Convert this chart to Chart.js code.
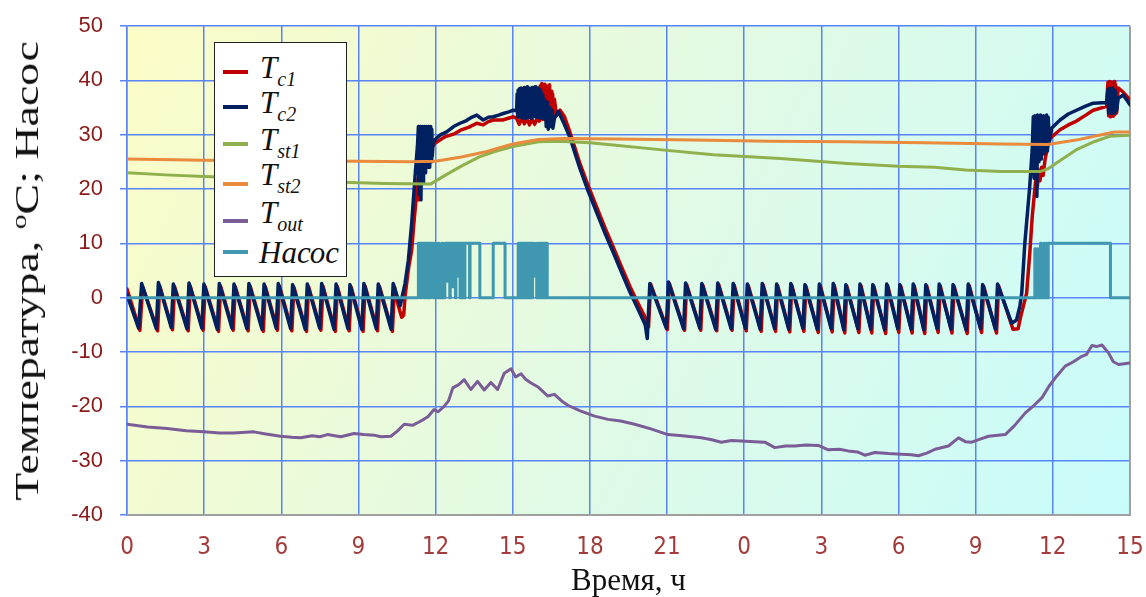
<!DOCTYPE html>
<html>
<head>
<meta charset="utf-8">
<script src="https://cdn.jsdelivr.net/npm/chart.js@4.4.1/dist/chart.umd.min.js"></script>
<style>
  body { margin: 0; background: #fff; }
  #wrap { position: relative; width: 1146px; height: 597px; }
  #ytitle {
    position: absolute; left: 27px; top: 271px;
    transform: translate(-50%, -50%) rotate(-90deg) scaleX(1.35);
    font: 34px "Liberation Serif", "Times New Roman", serif; color: #111; white-space: nowrap;
  }
  #ytitle sup { font-size: 22px; vertical-align: 12px; line-height: 1; }
  #legend {
    position: absolute; left: 214px; top: 42px; width: 131px; height: 233px;
    background: #fff; border: 1.5px solid #222;
  }
  .row { position: absolute; left: 45px; font: italic 31px "Liberation Serif", "Times New Roman", serif; line-height: 31px; color: #111; white-space: nowrap; }
  .row sub { font-size: 20px; vertical-align: -8px; line-height: 1; }
  .swatch { position: absolute; left: 8px; width: 25px; height: 4px; }
</style>
</head>
<body>
<div id="wrap">
  <canvas id="chart" width="1146" height="597"></canvas>
  <div id="ytitle">Температура, <sup>o</sup>C; Насос</div>
  <div id="legend"></div>
</div>
<script>
// hours from start, value
const tc1 = [
  [0,1.6],[0.50,-6.0],[0.61,2.0],[1.19,-6.1],[1.27,2.2],[1.77,-5.9],[1.85,2.0],[2.38,-6.1],[2.46,2.1],
  [2.96,-6.0],[3.04,2.0],[3.56,-6.2],[3.64,2.1],[4.13,-6.0],[4.21,2.0],[4.71,-6.1],[4.79,2.1],
  [5.30,-6.2],[5.38,2.0],[5.85,-6.0],[5.93,2.1],[6.41,-6.1],[6.49,1.9],[6.98,-6.2],[7.06,2.0],
  [7.54,-6.0],[7.62,2.1],[8.10,-6.2],[8.18,2.0],[8.64,-6.1],[8.72,1.9],[9.18,-6.2],[9.26,2.1],
  [9.74,-6.1],[9.82,2.0],[10.32,-6.2],[10.40,2.0],[10.55,-1.5],[10.68,-3.6],[10.76,-3.2],[10.81,0.2],
  [10.95,5.5],[11.07,8.8],[11.17,14.5],[11.26,19.2],[11.32,22],[11.35,18],[11.39,25.3],[11.43,21],
  [11.48,25.8],[11.52,22.5],[11.57,26.2],[11.62,24.5],[11.70,26.6],[11.97,28.4],[12.36,29.6],
  [12.75,30.2],[13.0,30.9],[13.3,31.4],[13.6,32.1],[13.85,31.8],[14.05,32.4],[14.24,32.7],[14.6,32.7],
  [15.02,33.3],[15.15,33.0],[15.25,31.9],[15.35,33.2],[15.45,32.0],[15.55,33.0],[15.65,31.8],
  [15.75,32.9],[15.85,31.9],[15.95,33.0],[16.03,32.5],
  [16.07,39.0],[16.10,33.2],[16.13,39.4],[16.16,32.8],[16.19,38.8],[16.22,33.5],[16.25,39.3],
  [16.28,32.7],[16.31,39.0],[16.34,33.0],[16.37,38.5],[16.40,32.9],[16.43,39.2],[16.46,33.4],
  [16.49,38.0],[16.52,32.7],[16.55,37.5],[16.58,33.0],[16.62,36.5],[16.70,33.5],[16.84,34.5],
  [17.0,33.4],[17.22,30.5],[17.61,24.7],[17.9,21.0],[18.26,16.7],[18.6,12.7],[18.9,9.4],[19.2,6.0],
  [19.56,2.0],[19.9,-1.3],[20.2,-4.1],[20.28,-5.4],[20.36,2.5],
  [21.01,-5.9],[21.09,2.6],[21.68,-6.0],[21.76,2.4],[22.31,-6.0],[22.39,2.3],[22.93,-6.1],[23.01,2.4],
  [23.53,-6.0],[23.61,2.3],[24.08,-6.1],[24.16,2.2],[24.66,-6.2],[24.74,2.3],[25.22,-6.2],[25.30,2.2],
  [25.77,-6.3],[25.85,2.3],[26.32,-6.2],[26.40,2.1],[26.88,-6.4],[26.96,2.2],[27.42,-6.3],[27.50,2.3],
  [27.91,-6.5],[27.99,2.1],[28.46,-6.4],[28.54,2.2],[28.96,-6.5],[29.04,2.1],[29.50,-6.6],[29.58,2.2],
  [30.01,-6.4],[30.09,2.1],[30.53,-6.5],[30.61,2.2],[31.02,-6.6],[31.10,2.1],[31.54,-6.4],[31.62,2.2],
  [32.08,-6.5],[32.16,2.1],[32.67,-6.6],[32.75,2.2],[33.23,-6.4],[33.31,2.1],[33.81,-6.5],[33.89,2.2],
  [34.45,-5.8],[34.65,-5.7],[34.75,-3.5],[34.98,0.8],[35.1,8.0],[35.2,15.0],[35.3,20.0],[35.36,23.0],
  [35.40,20.5],[35.45,23.5],[35.50,21.5],[35.56,24.0],[35.62,22.5],[35.70,25.5],[35.80,27.8],
  [35.89,29.3],[36.28,30.9],[36.6,31.8],[36.92,32.5],[37.25,33.5],[37.57,34.5],[38.09,35.2],
  [38.14,39.6],[38.17,33.5],[38.20,39.8],[38.23,33.3],[38.26,39.7],[38.29,33.6],[38.32,39.5],
  [38.35,33.4],[38.38,39.8],[38.41,33.7],[38.44,39.2],[38.48,34.0],[38.54,38.6],[38.74,37.8],[39,36.4]
];

const tc2 = [
  [0,0.5],[0.45,-5.6],[0.57,2.6],[1.14,-5.7],[1.22,2.8],[1.72,-5.5],[1.80,2.5],[2.33,-5.7],[2.41,2.7],
  [2.91,-5.6],[2.99,2.5],[3.51,-5.8],[3.59,2.6],[4.08,-5.6],[4.16,2.5],[4.66,-5.7],[4.74,2.6],
  [5.25,-5.8],[5.33,2.5],[5.80,-5.6],[5.88,2.6],[6.36,-5.7],[6.44,2.4],[6.93,-5.8],[7.01,2.5],
  [7.49,-5.6],[7.57,2.6],[8.05,-5.8],[8.13,2.5],[8.59,-5.7],[8.67,2.4],[9.13,-5.8],[9.21,2.6],
  [9.69,-5.7],[9.77,2.5],[10.27,-5.8],[10.35,2.6],[10.62,-1.5],[10.81,2.6],[10.94,6.9],[11.07,13.7],
  [11.20,22.3],[11.30,28.4],[11.33,31.5],
  [11.35,19],[11.37,31],[11.39,22],[11.41,31.5],[11.43,18],[11.45,31],[11.47,24],[11.49,31.5],
  [11.51,21],[11.53,31],[11.55,25],[11.57,31.5],[11.59,23],[11.61,31],[11.63,25],[11.65,31.5],
  [11.67,24],[11.69,31],[11.71,26],[11.73,31.5],[11.75,24],[11.77,31],[11.79,26],[11.81,31.5],
  [11.83,25],[11.85,31],[11.87,26],[11.90,28.4],[12.0,29.2],[12.2,30.0],[12.43,30.5],[12.7,31.5],
  [12.95,32.1],[13.2,32.6],[13.4,33.2],[13.6,33.6],[13.85,32.7],[14.05,33.2],[14.24,33.3],
  [14.45,33.6],[14.63,33.9],[14.85,34.2],[15.02,34.5],[15.15,34.4],
  [15.17,37.5],[15.19,33.4],[15.21,38.2],[15.24,33.2],[15.27,38.5],[15.30,33.6],[15.33,38.6],
  [15.36,33.1],[15.39,38.4],[15.42,33.5],[15.45,38.7],[15.48,33.0],[15.51,38.5],[15.54,33.4],
  [15.57,38.8],[15.60,33.2],[15.63,38.6],[15.66,33.5],[15.69,38.4],[15.72,33.0],[15.75,38.7],
  [15.78,33.3],[15.81,38.5],[15.84,33.6],[15.87,38.8],[15.90,33.2],[15.93,38.4],[15.96,33.5],
  [15.99,38.6],[16.02,33.1],[16.05,38.3],[16.08,33.4],[16.11,37.8],[16.14,33.0],[16.17,37.2],
  [16.20,33.3],[16.23,36.5],[16.27,35.5],[16.30,31.5],[16.34,36.0],[16.38,31.0],[16.43,35.0],
  [16.47,31.5],[16.52,34.5],[16.56,31.2],[16.62,33.0],[16.77,34.3],[16.96,32.4],[17.22,29.5],
  [17.61,23.8],[17.9,20.0],[18.26,15.7],[18.6,11.7],[18.9,8.4],[19.2,5.0],[19.56,1.0],[19.9,-2.4],
  [20.15,-5.0],[20.23,-7.5],[20.33,2.6],
  [20.97,-5.6],[21.05,2.9],[21.64,-5.7],[21.72,2.7],[22.27,-5.6],[22.35,2.6],[22.89,-5.8],[22.97,2.7],
  [23.49,-5.7],[23.57,2.6],[24.04,-5.6],[24.12,2.5],[24.62,-5.8],[24.70,2.6],[25.18,-5.7],[25.26,2.5],
  [25.73,-5.8],[25.81,2.6],[26.28,-5.6],[26.36,2.4],[26.84,-5.8],[26.92,2.5],[27.38,-5.7],[27.46,2.6],
  [27.87,-5.9],[27.95,2.4],[28.42,-5.7],[28.50,2.5],[28.92,-5.8],[29.00,2.4],[29.46,-5.9],[29.54,2.5],
  [29.97,-5.7],[30.05,2.4],[30.49,-5.8],[30.57,2.5],[30.98,-5.9],[31.06,2.4],[31.50,-5.7],[31.58,2.5],
  [32.04,-5.8],[32.12,2.4],[32.63,-5.9],[32.71,2.5],[33.19,-5.7],[33.27,2.4],[33.77,-5.8],[33.85,2.5],
  [34.40,-4.7],[34.59,-4.1],[34.72,-1.5],[34.79,0.8],[34.91,10],[35.1,20.4],[35.2,27.5],[35.24,33.3],
  [35.27,22],[35.30,33.5],[35.33,24],[35.36,33.3],[35.38,18.6],[35.40,33.6],[35.43,25],[35.46,33.4],
  [35.49,26],[35.52,33.6],[35.55,25.5],[35.58,33.3],[35.61,27],[35.64,33.5],[35.67,26.5],[35.70,33.4],
  [35.73,27.5],[35.76,33.6],[35.79,27],[35.82,33.2],[35.86,28.5],[35.95,31.2],[36.28,32.7],
  [36.6,33.8],[36.92,34.5],[37.25,35.2],[37.57,35.8],[38.09,35.9],[38.14,38.3],[38.17,34.0],
  [38.20,38.5],[38.23,34.2],[38.26,38.4],[38.29,33.9],[38.32,38.6],[38.35,34.3],[38.38,38.2],
  [38.41,34.0],[38.44,37.8],[38.48,34.5],[38.54,36.7],[38.74,37.3],[39,35.5]
];

const tst1 = [
  [0,23.0],[1.5,22.6],[3,22.3],[5,22.0],[7,21.5],[8.7,21.2],[10,21.0],[11.8,20.9],[12.4,22.6],
  [13,24.2],[13.7,25.9],[14.3,26.9],[15,27.8],[16,28.7],[16.8,28.8],[18,28.5],[18.9,28.1],
  [20.8,27.2],[22.8,26.3],[25.4,25.6],[28,24.7],[30,24.2],[31.4,24.0],[32.6,23.5],[34,23.2],
  [35.5,23.2],[35.8,23.7],[36.3,25.3],[36.9,27.2],[37.6,28.7],[38.2,29.7],[39,29.9]
];

const tst2 = [
  [0,25.5],[3,25.3],[6,25.2],[9,25.1],[11,25.0],[12,25.1],[13,25.9],[14,26.9],[15,28.3],[16,29.1],
  [17,29.3],[19,29.2],[22,29.0],[25,28.8],[28,28.7],[31,28.5],[34,28.3],[35.8,28.2],[36.9,29.0],
  [37.8,29.9],[38.4,30.5],[39,30.5]
];

const tout = [
  [0,-23.3],[0.8,-23.8],[1.56,-24.1],[2.3,-24.5],[2.99,-24.7],[3.6,-24.9],[4.15,-24.9],[4.93,-24.7],
  [5.4,-25.1],[5.97,-25.5],[6.4,-25.7],[6.75,-25.8],[7.2,-25.4],[7.5,-25.6],[7.79,-25.2],[8.31,-25.6],
  [8.83,-25.0],[9.2,-25.2],[9.61,-25.3],[9.87,-25.6],[10.26,-25.5],[10.5,-24.6],[10.78,-23.3],
  [11.1,-23.5],[11.43,-22.7],[11.7,-21.9],[11.94,-20.6],[12.1,-21.0],[12.33,-20.0],[12.5,-19.0],
  [12.67,-16.6],[12.9,-16.0],[13.11,-15.1],[13.37,-16.9],[13.63,-15.4],[13.89,-17.0],[14.15,-15.6],
  [14.41,-16.9],[14.67,-13.9],[14.93,-13.1],[15.11,-14.6],[15.32,-14.0],[15.5,-15.0],[15.71,-15.7],
  [16.0,-16.5],[16.36,-18.1],[16.62,-17.8],[16.9,-19.0],[17.14,-19.8],[17.6,-20.8],[18.18,-21.8],
  [18.70,-22.4],[19.2,-22.7],[19.74,-23.3],[20.4,-24.2],[21.03,-25.2],[21.6,-25.4],[22.33,-25.8],
  [22.7,-26.1],[23.11,-26.6],[23.5,-26.3],[23.89,-26.4],[24.4,-26.5],[24.80,-26.6],[25.19,-27.6],
  [25.6,-27.3],[25.97,-27.3],[26.4,-27.1],[26.88,-27.2],[27.27,-28.0],[27.7,-27.9],[28.04,-28.2],
  [28.4,-28.4],[28.69,-29.0],[29.08,-28.5],[29.6,-28.7],[30.12,-28.8],[30.5,-28.9],[30.77,-29.1],
  [31.1,-28.6],[31.42,-27.9],[31.94,-27.3],[32.33,-25.8],[32.6,-26.5],[32.85,-26.6],[33.2,-26.0],
  [33.50,-25.5],[34.15,-25.2],[34.5,-23.6],[34.93,-21.2],[35.25,-19.9],[35.58,-18.4],[35.85,-16.3],
  [36.09,-14.8],[36.48,-12.6],[36.8,-11.8],[37.13,-10.8],[37.3,-10.5],[37.52,-8.8],[37.7,-9.0],
  [37.91,-8.7],[38.17,-10.2],[38.35,-11.8],[38.56,-12.3],[39,-12.0]
];

// pump state, held until the next point
const pump = [
  [0,0],[11.33,10],[11.36,2],[11.38,10],[11.42,0],[11.44,10],[11.47,3],[11.50,10],[11.55,0],[11.57,10],
  [11.62,0],[11.65,10],[11.70,0],[11.72,10],[11.78,0],[11.81,10],[11.86,1],[11.88,10],[11.91,0],
  [11.98,10],[12.02,0],[12.10,10],[12.14,0],[12.24,10],[12.28,0],[12.36,10],[12.45,3],[12.47,10],
  [12.55,0],[12.57,10],[12.66,2],[12.68,10],[12.77,0],[12.79,10],[12.86,4],[12.88,10],[12.95,0],
  [12.97,10],[13.05,0],[13.07,10],[13.12,0],[13.14,10],[13.32,0],[13.34,10],[13.72,0],[14.24,10],
  [14.70,0],[15.21,10],[15.25,0],[15.28,10],[15.33,0],[15.36,10],[15.41,0],[15.44,10],[15.49,0],
  [15.52,10],[15.58,0],[15.61,10],[15.66,0],[15.69,10],[15.74,0],[15.77,10],[15.81,4],[15.90,10],
  [15.93,0],[15.99,10],[16.03,0],[16.06,10],[16.11,0],[16.14,10],[16.19,0],[16.22,10],[16.27,0],
  [16.30,10],[16.34,0],[16.37,0],[35.30,9],[35.33,0],[35.40,9],[35.43,0],[35.52,10],[35.55,0],
  [35.63,10],[35.66,0],[35.74,10],[35.77,0],[35.82,10],[38.24,0],[39,0]
];

const seriesNames = ['Tc1', 'Tc2', 'Tst1', 'Tst2', 'Tout', 'Насос'];
const legendMain = ['T', 'T', 'T', 'T', 'T', 'Насос'];
const legendSub = ['c1', 'c2', 'st1', 'st2', 'out', ''];
const xTickLabels = ['0','3','6','9','12','15','18','21','0','3','6','9','12','15'];
const colors = ['#c00000', '#002060', '#8fb04c', '#ea8a3c', '#7a5c96', '#3f97b0'];

const toXY = arr => arr.map(p => ({ x: p[0], y: p[1] }));
const allData = [tc1, tc2, tst1, tst2, tout, pump];

const datasets = allData.map((d, i) => ({
  label: seriesNames[i],
  data: toXY(d),
  borderColor: colors[i],
  borderWidth: i < 2 ? 3.5 : 3,
  borderJoinStyle: 'round',
  borderCapStyle: 'round',
  pointRadius: 0,
  tension: 0,
  stepped: i === 5,
  order: 6 - i
}));

const plotBackground = {
  id: 'plotBackground',
  beforeDraw(chart) {
    const { ctx, chartArea: a } = chart;
    const g = ctx.createLinearGradient(a.left, a.top, a.right, a.bottom);
    g.addColorStop(0, '#fcfcc6');
    g.addColorStop(0.5, '#e2fae4');
    g.addColorStop(1, '#c8fcfc');
    ctx.save();
    ctx.fillStyle = g;
    ctx.fillRect(a.left, a.top, a.right - a.left, a.bottom - a.top);
    ctx.restore();
  },
  beforeDatasetsDraw(chart) {
    const { ctx, chartArea: a } = chart;
    ctx.save();
    ctx.strokeStyle = '#a0a0a0';
    ctx.lineWidth = 2;
    ctx.beginPath();
    ctx.moveTo(a.right, a.top);
    ctx.lineTo(a.right, a.bottom);
    ctx.lineTo(a.left, a.bottom);
    ctx.stroke();
    ctx.restore();
  }
};

new Chart(document.getElementById('chart'), {
  type: 'line',
  data: { datasets },
  options: {
    responsive: false,
    animation: false,
    devicePixelRatio: 1,
    events: [],
    layout: { padding: { top: 26, right: 16, left: 0, bottom: 0 } },
    plugins: { legend: { display: false }, tooltip: { enabled: false } },
    scales: {
      x: {
        type: 'linear', min: 0, max: 39,
        afterFit: s => { s.height = 82; },
        ticks: {
          stepSize: 3,
          padding: 0,
          color: '#a33c3c',
          font: { family: "'Liberation Sans Narrow', 'DejaVu Sans Condensed', 'Liberation Sans', Arial, sans-serif", size: 24 },
          callback: v => xTickLabels[Math.round(v / 3)]
        },
        grid: { color: '#5884f8', lineWidth: 1.5, drawTicks: true, tickLength: 18, tickColor: 'rgba(0,0,0,0)' },
        border: { color: '#a0a0a0', width: 2 },
        title: {
          display: true, text: 'Время, ч', color: '#111',
          font: { family: "'Liberation Serif', 'Times New Roman', serif", size: 31 },
          padding: { top: 0, bottom: -3 }
        }
      },
      y: {
        min: -40, max: 50,
        afterFit: s => { s.width = 127; },
        ticks: {
          stepSize: 10,
          padding: 0,
          color: '#8b1a1a',
          font: { family: "'Liberation Sans', Arial, sans-serif", size: 22 }
        },
        grid: {
          color: '#5884f8', lineWidth: 1.5, tickLength: 24, tickColor: '#5884f8',
          tickBorderDash: [7, 17], tickBorderDashOffset: 7
        },
        border: { color: '#5884f8', width: 1.5 }
      }
    }
  },
  plugins: [plotBackground]
});

// legend with subscripts
const legendEl = document.getElementById('legend');
const swatchTops = [27, 62, 99, 139, 176, 207];
const baseTops = [9, 44, 81, 116, 154, 194];
seriesNames.forEach((name, i) => {
  const sw = document.createElement('div');
  sw.className = 'swatch';
  sw.style.top = swatchTops[i] + 'px';
  sw.style.background = colors[i];
  legendEl.appendChild(sw);
  const row = document.createElement('div');
  row.className = 'row';
  row.style.top = baseTops[i] + 'px';
  row.textContent = legendMain[i];
  if (legendSub[i]) {
    const sub = document.createElement('sub');
    sub.textContent = legendSub[i];
    row.appendChild(sub);
  } else {
    row.style.left = '44px';
  }
  legendEl.appendChild(row);
});
</script>
</body>
</html>
